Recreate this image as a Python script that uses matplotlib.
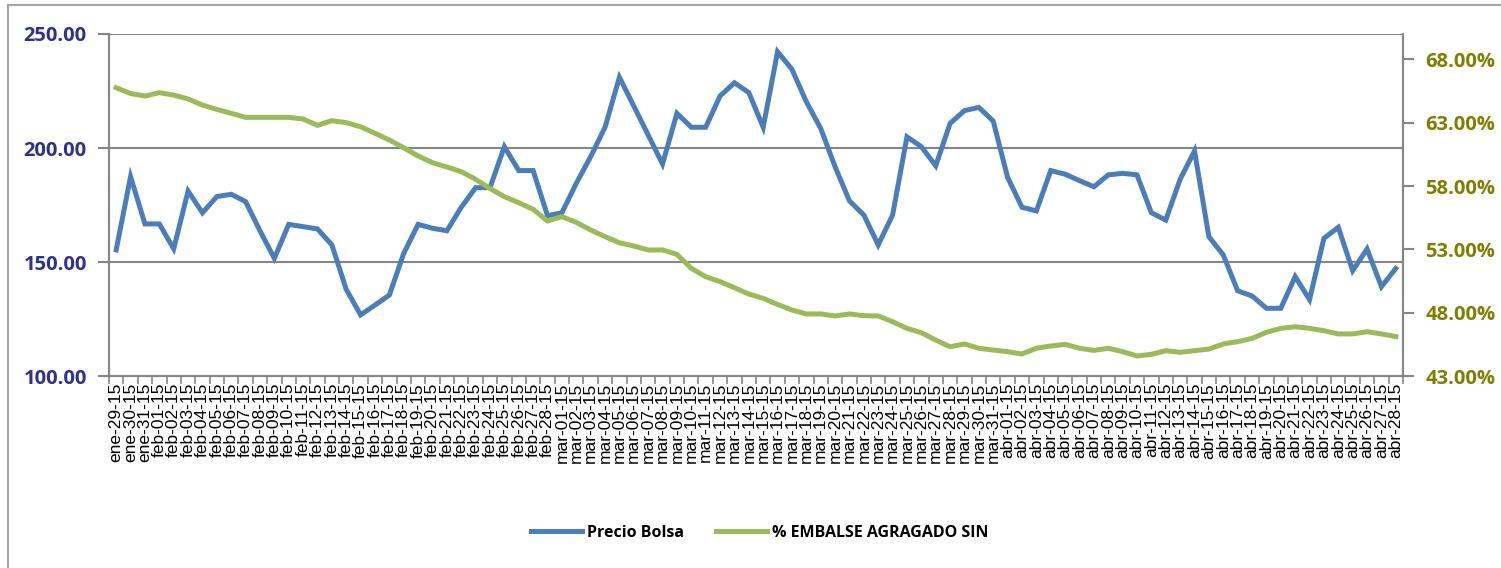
import pandas as pd
import matplotlib
matplotlib.use("Agg")
import matplotlib.pyplot as plt
from matplotlib.lines import Line2D
from matplotlib.ticker import FuncFormatter, FixedLocator

# --- Datos ---
meses = {1: "ene", 2: "feb", 3: "mar", 4: "abr"}
fechas = pd.date_range("2015-01-29", "2015-04-28", freq="D")
etiquetas = [f"{meses[d.month]}-{d.day:02d}-15" for d in fechas]

precio_bolsa = [
    155.3, 187.4, 166.7, 166.7, 155.8, 181.1, 171.6, 178.7, 179.7, 176.5,
    163.7, 151.6, 166.5, 165.5, 164.5, 157.5, 138.0, 126.8, 131.1, 135.5,
    153.8, 166.5, 164.8, 163.7, 174.0, 182.6, 182.6, 200.6, 190.1, 190.1,
    170.3, 171.6, 184.5, 196.2, 209.1, 231.0, 218.4, 205.7, 193.0, 215.2,
    209.1, 209.1, 222.8, 228.6, 224.3, 209.1, 242.2, 234.5, 220.3, 208.6,
    191.8, 176.8, 170.6, 157.5, 170.6, 204.9, 200.6, 192.2, 210.8, 216.4,
    217.8, 211.8, 187.1, 174.0, 172.4, 190.1, 188.5, 185.7, 183.0, 188.2,
    188.9, 188.2, 171.6, 168.4, 186.3, 198.7, 161.1, 153.1, 137.4, 135.1,
    129.7, 129.7, 143.6, 133.5, 160.4, 165.2, 146.2, 155.7, 139.2, 147.2,
]

embalse = [
    65.76, 65.30, 65.10, 65.37, 65.18, 64.87, 64.39, 64.05, 63.74, 63.42,
    63.42, 63.42, 63.42, 63.29, 62.79, 63.16, 63.00, 62.68, 62.16, 61.63,
    61.02, 60.37, 59.84, 59.50, 59.13, 58.53, 57.80, 57.16, 56.68, 56.16,
    55.24, 55.58, 55.13, 54.53, 54.00, 53.52, 53.26, 52.95, 52.95, 52.60,
    51.50, 50.84, 50.45, 49.97, 49.47, 49.13, 48.65, 48.21, 47.90, 47.90,
    47.74, 47.90, 47.76, 47.74, 47.29, 46.76, 46.42, 45.84, 45.31, 45.53,
    45.19, 45.05, 44.92, 44.74, 45.19, 45.37, 45.50, 45.19, 45.02, 45.19,
    44.92, 44.58, 44.71, 45.00, 44.87, 45.00, 45.13, 45.53, 45.71, 45.97,
    46.45, 46.76, 46.89, 46.76, 46.58, 46.32, 46.32, 46.50, 46.32, 46.11,
]
embalse = [v / 100 for v in embalse]

# --- Estilo ---
AZUL = "#4A7EBB"
VERDE = "#9BBB59"
GRIS = "#868686"
COLOR_IZQ = "#2E3192"
COLOR_DER = "#7F7F00"
FUENTE = "Open Sans"

fig = plt.figure(figsize=(15.01, 5.68), dpi=100)
ax = fig.add_axes([109 / 1501, 1 - 376 / 568, (1403 - 109) / 1501, (376 - 34) / 568])
ax2 = ax.twinx()

x = list(range(len(etiquetas)))
l1, = ax.plot(x, precio_bolsa, color=AZUL, lw=3.6, solid_joinstyle="miter", zorder=3)
l2, = ax2.plot(x, embalse, color=VERDE, lw=3.6, solid_joinstyle="miter", zorder=3)

# eje izquierdo
ax.set_xlim(-0.5, len(x) - 0.5)
ax.set_ylim(100, 250)
ax.set_yticks([100, 150, 200, 250])
ax.yaxis.set_major_formatter(FuncFormatter(lambda v, p: f"{v:.2f}"))
ax.grid(axis="y", color=GRIS, lw=1.5)
ax.set_axisbelow(True)
for lab in ax.get_yticklabels():
    lab.set_fontfamily(FUENTE)
    lab.set_fontweight("bold")
    lab.set_fontsize(14.5)
    lab.set_color(COLOR_IZQ)
ax.tick_params(axis="y", length=8, width=1.5, color=GRIS, pad=8)

# eje x: etiquetas rotadas, marcas entre categorías
ax.set_xticks(x)
ax.set_xticklabels(etiquetas, rotation=90, fontsize=12.5, family="Liberation Sans")
ax.tick_params(axis="x", length=0, pad=5)
ax.xaxis.set_minor_locator(FixedLocator([i - 0.5 for i in range(len(x) + 1)]))
ax.tick_params(axis="x", which="minor", length=6, width=1.2, color=GRIS)

# eje derecho
ax2.set_ylim(0.43, 0.70)
ax2.set_yticks([0.43, 0.48, 0.53, 0.58, 0.63, 0.68])
ax2.yaxis.set_major_formatter(FuncFormatter(lambda v, p: f"{v * 100:.2f}%"))
for lab in ax2.get_yticklabels():
    lab.set_fontfamily(FUENTE)
    lab.set_fontweight("bold")
    lab.set_fontsize(14.5)
    lab.set_color(COLOR_DER)
ax2.tick_params(axis="y", length=8, width=1.5, color=GRIS, pad=8)

for a in (ax, ax2):
    a.spines["top"].set_visible(False)
    for s in ("left", "right", "bottom"):
        a.spines[s].set_color(GRIS)
        a.spines[s].set_linewidth(1.5)

# leyenda
fig.legend([l1, l2], ["Precio Bolsa", "% EMBALSE AGRAGADO SIN"],
           loc="center", bbox_to_anchor=(760 / 1501, 1 - 533 / 568), ncol=2,
           frameon=False, handlelength=3.2, columnspacing=2.0, handletextpad=0.3,
           prop={"family": FUENTE, "weight": "bold", "size": 11.5})

# marco del gráfico
fig.add_artist(Line2D([8 / 1501, 1], [1 - 5 / 568, 1 - 5 / 568], color="#A6A6A6", lw=1.5))
fig.add_artist(Line2D([8 / 1501, 8 / 1501], [0, 1 - 5 / 568], color="#A6A6A6", lw=1.5))

fig.savefig("out.png", dpi=100, facecolor="white")
